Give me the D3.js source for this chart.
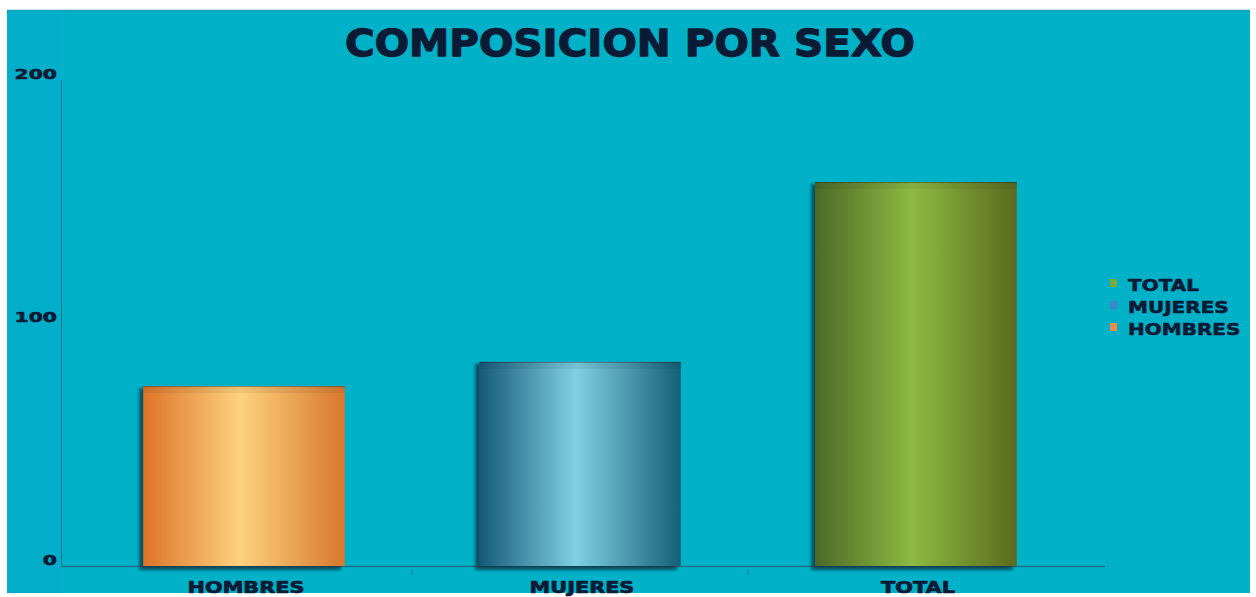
<!DOCTYPE html>
<html>
<head>
<meta charset="utf-8">
<script src="https://cdn.jsdelivr.net/npm/d3@7/dist/d3.min.js"></script>
<style>
  html, body { margin: 0; padding: 0; background: #ffffff; }
  svg { display: block; }
  text { font-family: "DejaVu Sans", Verdana, sans-serif; font-weight: bold; fill: #0a1b36; stroke: #0a1b36; stroke-linejoin: round; }
</style>
</head>
<body>
<svg id="chart" width="1256" height="597"></svg>
<script>
// Chart data
const categories = ["HOMBRES", "MUJERES", "TOTAL"];
const values = [74, 84, 158];
const yTicks = [0, 100, 200];
const legendItems = ["TOTAL", "MUJERES", "HOMBRES"];
const chartTitle = "COMPOSICION POR SEXO";

// Cylinder-style gradient stops per category: edge, highlight, edge
const palettes = {
  HOMBRES: ["#dd7428", "#fdd27f", "#d8772c"],
  MUJERES: ["#17597a", "#7fd0e2", "#156078"],
  TOTAL:   ["#4c6a28", "#8cba42", "#5c6a1f"]
};
const legendColors = { TOTAL: "#7aa83a", MUJERES: "#3f86c8", HOMBRES: "#f08a4a" };

const svg = d3.select("#chart");

// Panel
const panel = { x: 7, y: 10, w: 1243, h: 583 };
svg.append("rect")
  .attr("x", panel.x).attr("y", panel.y)
  .attr("width", panel.w).attr("height", panel.h)
  .attr("fill", "#01b1c8");
svg.append("line")
  .attr("x1", panel.x).attr("x2", panel.x + panel.w)
  .attr("y1", panel.y + 0.5).attr("y2", panel.y + 0.5)
  .attr("stroke", "#1a9fb0").attr("stroke-width", 1.5);
svg.append("rect")
  .attr("x", panel.x).attr("y", panel.y)
  .attr("width", 54).attr("height", panel.h)
  .attr("fill", "#07a9cf").attr("opacity", 0.3);

// Scales
const x = d3.scaleBand().domain(categories).range([76, 1084]).paddingInner(0.4).paddingOuter(0.2);
const y = d3.scaleLinear().domain([0, 200]).range([566, 80]);

const defs = svg.append("defs");
categories.forEach((c, i) => {
  const g = defs.append("linearGradient").attr("id", "grad" + i)
    .attr("x1", "0%").attr("x2", "100%").attr("y1", "0%").attr("y2", "0%");
  const p = palettes[c];
  g.append("stop").attr("offset", "0%").attr("stop-color", p[0]);
  g.append("stop").attr("offset", "48%").attr("stop-color", p[1]);
  g.append("stop").attr("offset", "100%").attr("stop-color", p[2]);
});
const blur = defs.append("filter").attr("id", "shadow")
  .attr("x", "-10%").attr("y", "-10%").attr("width", "120%").attr("height", "120%");
blur.append("feGaussianBlur").attr("stdDeviation", 1.5);

// Axes lines
svg.append("line")
  .attr("x1", 61.5).attr("x2", 61.5).attr("y1", y(200)).attr("y2", y(0))
  .attr("stroke", "#1f6f8a").attr("stroke-width", 1);
svg.append("line")
  .attr("x1", 61).attr("x2", 1105).attr("y1", y(0) + 0.5).attr("y2", y(0) + 0.5)
  .attr("stroke", "#1a6f8a").attr("stroke-width", 1.5);

// Category separators on baseline
const bounds = categories.slice(1).map(c => x(c) - x.step() * x.paddingInner() / 2);
svg.selectAll(".sep").data(bounds).enter().append("line")
  .attr("x1", d => d).attr("x2", d => d)
  .attr("y1", y(0) + 4).attr("y2", y(0) + 9)
  .attr("stroke", "#1f6f8a").attr("stroke-width", 1);

// Bars
const bars = svg.append("g");
categories.forEach((c, i) => {
  const bx = x(c), bw = x.bandwidth(), top = y(values[i]), bh = y(0) - y(values[i]);
  // soft shadow on left/bottom
  bars.append("rect")
    .attr("x", bx - 4).attr("y", top + 2)
    .attr("width", bw).attr("height", bh + 2)
    .attr("fill", "#0c3240").attr("opacity", 0.75)
    .attr("filter", "url(#shadow)");
  bars.append("rect")
    .attr("x", bx).attr("y", top)
    .attr("width", bw).attr("height", bh)
    .attr("fill", `url(#grad${i})`);
  // cylinder top cap
  bars.append("rect")
    .attr("x", bx).attr("y", top)
    .attr("width", bw).attr("height", 7)
    .attr("fill", "#000000").attr("opacity", 0.06);
  bars.append("line")
    .attr("x1", bx).attr("x2", bx + bw).attr("y1", top + 0.5).attr("y2", top + 0.5)
    .attr("stroke", "#000000").attr("stroke-opacity", 0.3);
});

// Widened bold text helper: stretches glyphs to a target width
const wide = (sel, factor) => sel.each(function () {
  const t = d3.select(this);
  const len = this.getComputedTextLength();
  t.attr("textLength", len * factor).attr("lengthAdjust", "spacingAndGlyphs");
});

// Y tick labels
svg.selectAll(".ytick").data(yTicks).enter().append("text")
  .attr("x", 57).attr("y", d => y(d) - 1)
  .attr("text-anchor", "end")
  .attr("font-size", 14)
  .attr("stroke-width", 0.6)
  .text(d => d)
  .call(wide, 1.45);

// X labels
svg.selectAll(".xlab").data(categories).enter().append("text")
  .attr("x", d => x(d) + x.bandwidth() / 2 + 2)
  .attr("y", 593)
  .attr("text-anchor", "middle")
  .attr("font-size", 16)
  .attr("stroke-width", 0.7)
  .text(d => d)
  .call(wide, 1.3);

// Title
svg.append("text")
  .attr("x", 630).attr("y", 56)
  .attr("text-anchor", "middle")
  .attr("font-size", 38)
  .attr("stroke-width", 1.3)
  .attr("textLength", 570)
  .attr("lengthAdjust", "spacingAndGlyphs")
  .text(chartTitle);

// Legend
const lg = svg.append("g").attr("transform", "translate(1108,278)");
legendItems.forEach((k, i) => {
  lg.append("rect").attr("x", 2).attr("y", i * 22 + 1)
    .attr("width", 7).attr("height", 8).attr("fill", legendColors[k]);
  lg.append("text").attr("x", 20).attr("y", i * 22 + 13)
    .attr("font-size", 16).attr("stroke-width", 0.6)
    .text(k)
    .call(wide, 1.25);
});
</script>
</body>
</html>
